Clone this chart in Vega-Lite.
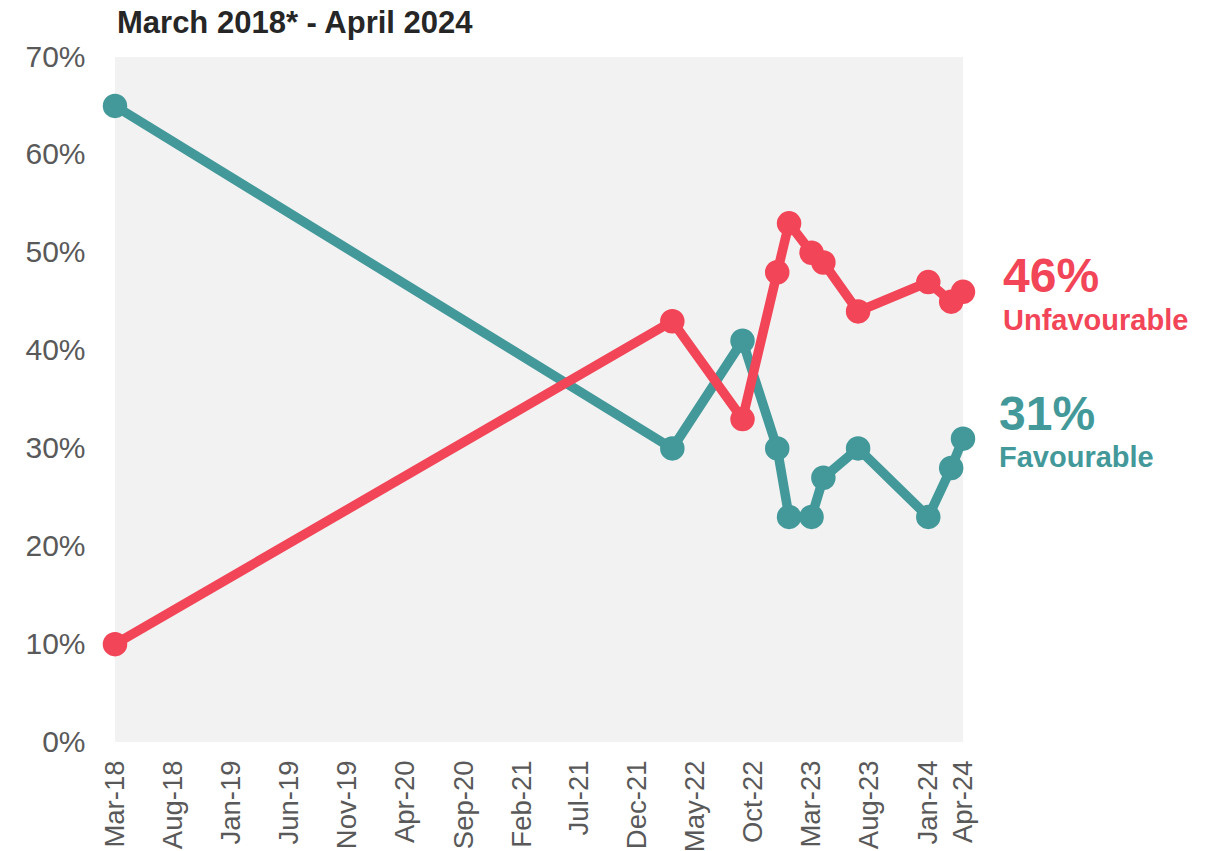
{
  "$schema": "https://vega.github.io/schema/vega-lite/v6.json",
  "width": 848,
  "height": 685,
  "autosize": "none",
  "padding": {"left": 115, "top": 57, "right": 251, "bottom": 109},
  "background": "#ffffff",
  "config": {
    "view": {"fill": "#f2f2f2", "stroke": null},
    "font": "Liberation Sans"
  },
  "title": {
    "text": "March 2018* - April 2024",
    "anchor": "start",
    "frame": "group",
    "fontSize": 31,
    "fontWeight": "bold",
    "color": "#262626",
    "font": "Liberation Sans",
    "offset": 2,
    "dx": 2
  },
  "datasets": {
    "series": [
      {"date": "2018-03-01", "series": "Favourable", "value": 65},
      {"date": "2022-03-01", "series": "Favourable", "value": 30},
      {"date": "2022-09-01", "series": "Favourable", "value": 41},
      {"date": "2022-12-01", "series": "Favourable", "value": 30},
      {"date": "2023-01-01", "series": "Favourable", "value": 23},
      {"date": "2023-03-01", "series": "Favourable", "value": 23},
      {"date": "2023-04-01", "series": "Favourable", "value": 27},
      {"date": "2023-07-01", "series": "Favourable", "value": 30},
      {"date": "2024-01-01", "series": "Favourable", "value": 23},
      {"date": "2024-03-01", "series": "Favourable", "value": 28},
      {"date": "2024-04-01", "series": "Favourable", "value": 31},
      {"date": "2018-03-01", "series": "Unfavourable", "value": 10},
      {"date": "2022-03-01", "series": "Unfavourable", "value": 43},
      {"date": "2022-09-01", "series": "Unfavourable", "value": 33},
      {"date": "2022-12-01", "series": "Unfavourable", "value": 48},
      {"date": "2023-01-01", "series": "Unfavourable", "value": 53},
      {"date": "2023-03-01", "series": "Unfavourable", "value": 50},
      {"date": "2023-04-01", "series": "Unfavourable", "value": 49},
      {"date": "2023-07-01", "series": "Unfavourable", "value": 44},
      {"date": "2024-01-01", "series": "Unfavourable", "value": 47},
      {"date": "2024-03-01", "series": "Unfavourable", "value": 45},
      {"date": "2024-04-01", "series": "Unfavourable", "value": 46}
    ],
    "labels": [
      {"date": "2024-04-01", "series": "Unfavourable", "value": 46, "pct": "46%", "name": "Unfavourable"},
      {"date": "2024-04-01", "series": "Favourable", "value": 31, "pct": "31%", "name": "Favourable"}
    ]
  },
  "encoding": {
    "x": {
      "field": "date",
      "type": "temporal",
      "scale": {
        "type": "utc",
        "domain": [
          {"year": 2018, "month": 3, "date": 1, "utc": true},
          {"year": 2024, "month": 4, "date": 1, "utc": true}
        ],
        "nice": false
      },
      "axis": {
        "title": null,
        "labelExpr": "utcFormat(datum.value, '%b-%y')",
        "values": [
          {"year": 2018, "month": 3, "date": 1, "utc": true},
          {"year": 2018, "month": 8, "date": 1, "utc": true},
          {"year": 2019, "month": 1, "date": 1, "utc": true},
          {"year": 2019, "month": 6, "date": 1, "utc": true},
          {"year": 2019, "month": 11, "date": 1, "utc": true},
          {"year": 2020, "month": 4, "date": 1, "utc": true},
          {"year": 2020, "month": 9, "date": 1, "utc": true},
          {"year": 2021, "month": 2, "date": 1, "utc": true},
          {"year": 2021, "month": 7, "date": 1, "utc": true},
          {"year": 2021, "month": 12, "date": 1, "utc": true},
          {"year": 2022, "month": 5, "date": 1, "utc": true},
          {"year": 2022, "month": 10, "date": 1, "utc": true},
          {"year": 2023, "month": 3, "date": 1, "utc": true},
          {"year": 2023, "month": 8, "date": 1, "utc": true},
          {"year": 2024, "month": 1, "date": 1, "utc": true},
          {"year": 2024, "month": 4, "date": 1, "utc": true}
        ],
        "labelAngle": 270,
        "labelAlign": "right",
        "labelBaseline": "middle",
        "labelPadding": 18,
        "labelFontSize": 27.5,
        "labelColor": "#595959",
        "labelFont": "Liberation Sans",
        "labelOverlap": false,
        "labelFlush": false,
        "labelBound": false,
        "ticks": false,
        "domain": false,
        "grid": false
      }
    },
    "y": {
      "field": "value",
      "type": "quantitative",
      "scale": {"domain": [0, 70], "nice": false},
      "axis": {
        "title": null,
        "values": [0, 10, 20, 30, 40, 50, 60, 70],
        "labelExpr": "datum.value + '%'",
        "labelFontSize": 30,
        "labelColor": "#595959",
        "labelFont": "Liberation Sans",
        "labelPadding": 30,
        "ticks": false,
        "domain": false,
        "grid": false
      }
    }
  },
  "layer": [
    {
      "data": {"name": "series"},
      "mark": {
        "type": "line",
        "strokeWidth": 9.5,
        "point": {"filled": true, "size": 600, "opacity": 1}
      },
      "encoding": {
        "color": {
          "field": "series",
          "type": "nominal",
          "scale": {"domain": ["Favourable", "Unfavourable"], "range": ["#43999a", "#f24557"]},
          "legend": null
        }
      }
    },
    {
      "data": {"name": "labels"},
      "transform": [{"filter": "datum.series === 'Unfavourable'"}],
      "mark": {"type": "text", "align": "left", "baseline": "alphabetic", "dx": 40, "dy": 0, "fontSize": 48, "fontWeight": "bold", "font": "Liberation Sans"},
      "encoding": {"text": {"field": "pct"}, "color": {"value": "#f24557"}}
    },
    {
      "data": {"name": "labels"},
      "transform": [{"filter": "datum.series === 'Unfavourable'"}],
      "mark": {"type": "text", "align": "left", "baseline": "alphabetic", "dx": 40, "dy": 38, "fontSize": 29, "fontWeight": "bold", "font": "Liberation Sans"},
      "encoding": {"text": {"field": "name"}, "color": {"value": "#f24557"}}
    },
    {
      "data": {"name": "labels"},
      "transform": [{"filter": "datum.series === 'Favourable'"}],
      "mark": {"type": "text", "align": "left", "baseline": "alphabetic", "dx": 36, "dy": -9, "fontSize": 48, "fontWeight": "bold", "font": "Liberation Sans"},
      "encoding": {"text": {"field": "pct"}, "color": {"value": "#43999a"}}
    },
    {
      "data": {"name": "labels"},
      "transform": [{"filter": "datum.series === 'Favourable'"}],
      "mark": {"type": "text", "align": "left", "baseline": "alphabetic", "dx": 36, "dy": 28, "fontSize": 29, "fontWeight": "bold", "font": "Liberation Sans"},
      "encoding": {"text": {"field": "name"}, "color": {"value": "#43999a"}}
    }
  ]
}
